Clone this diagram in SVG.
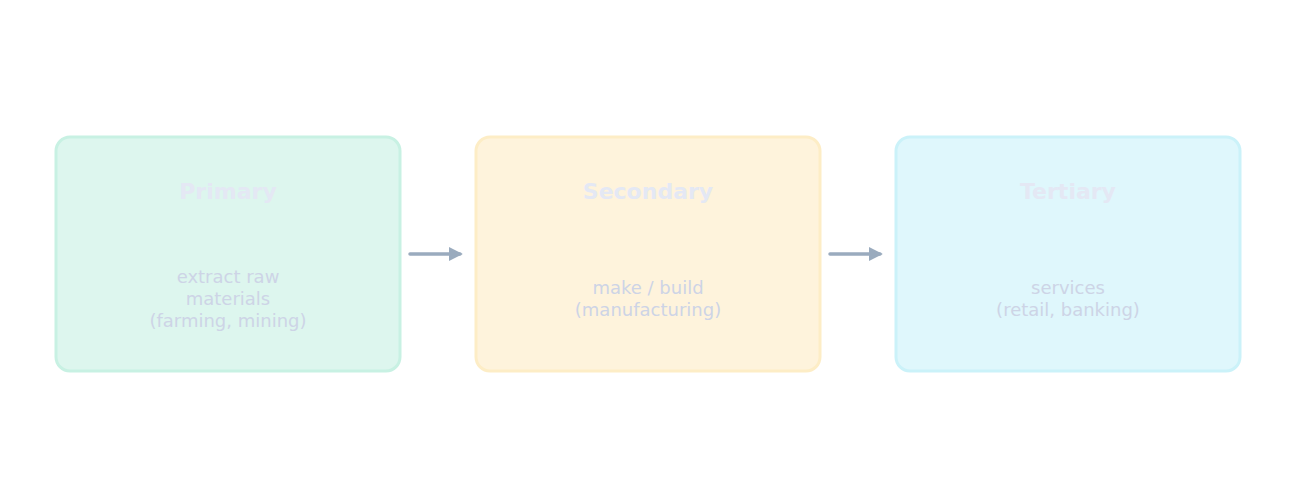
<svg xmlns="http://www.w3.org/2000/svg" width="1295" height="486" viewBox="0 0 1295 486">
<style>
.t{font-family:"DejaVu Sans",sans-serif;font-size:22px;font-weight:bold;fill:#e4e8f4;text-anchor:middle}
.b{font-family:"DejaVu Sans",sans-serif;font-size:18px;fill:#cdd4e6;text-anchor:middle}
.c{stroke:#9aabbe;stroke-width:3.5;stroke-linecap:round;fill:none}
</style>
<defs><marker id="a" viewBox="0 0 10 10" refX="8" refY="5" markerWidth="4" markerHeight="4" orient="auto"><path d="M0,0L10,5L0,10z" fill="#9aabbe"/></marker></defs>
<rect width="1295" height="486" fill="#fff"/>
<g id="primary"><rect x="56" y="137" width="344" height="234" rx="14" fill="#ddf6ee" stroke="#c8f1e3" stroke-width="3"/>
<text class="t" x="228" y="199">Primary</text>
<text class="b" x="228" y="283">extract raw</text><text class="b" x="228" y="305">materials</text><text class="b" x="228" y="327">(farming, mining)</text></g>
<g id="secondary"><rect x="476" y="137" width="344" height="234" rx="14" fill="#fef3dc" stroke="#fdedc6" stroke-width="3"/>
<text class="t" x="648" y="199">Secondary</text>
<text class="b" x="648" y="294">make / build</text><text class="b" x="648" y="316">(manufacturing)</text></g>
<g id="tertiary"><rect x="896" y="137" width="344" height="234" rx="14" fill="#dff7fc" stroke="#cbf2f9" stroke-width="3"/>
<text class="t" x="1068" y="199">Tertiary</text>
<text class="b" x="1068" y="294">services</text><text class="b" x="1068" y="316">(retail, banking)</text></g>
<g id="connectors"><path class="c" d="M410,254H460" marker-end="url(#a)"/><path class="c" d="M830,254H880" marker-end="url(#a)"/></g>
</svg>
